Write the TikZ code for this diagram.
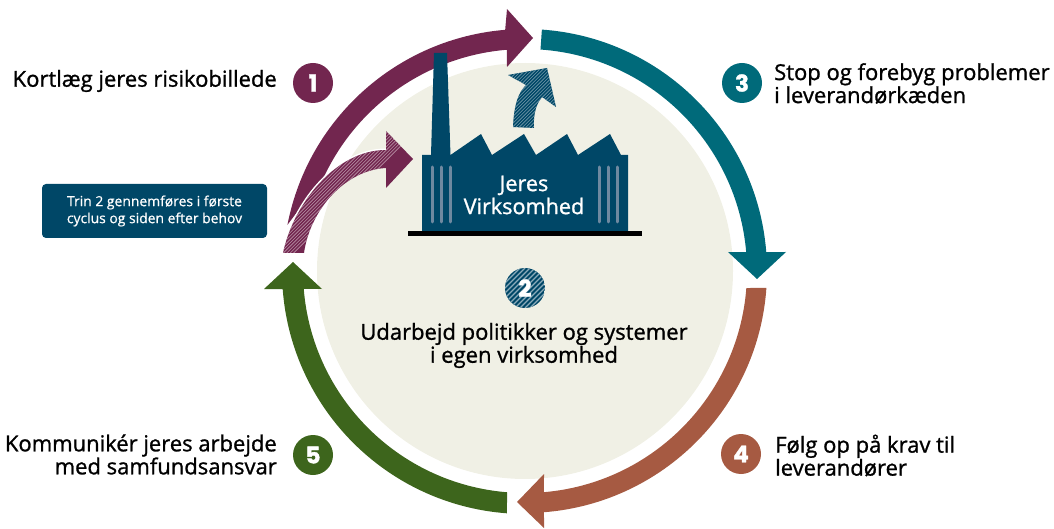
\documentclass[tikz,border=0pt]{standalone}
\usepackage{fontspec}
\setmainfont{Open Sans}[Ligatures=TeX,FakeBold=0.6]
\newfontfamily\labelfont{Open Sans}[FakeBold=1.1]
\newfontfamily\numfont{Poppins}[BoldFeatures={FakeBold=1.5}]
\definecolor{cmaroon}{HTML}{72264F}
\definecolor{cteal}{HTML}{006A7A}
\definecolor{cbrown}{HTML}{A65A42}
\definecolor{cgreen}{HTML}{3D651C}
\definecolor{cnavy}{HTML}{004767}
\definecolor{cbeige}{HTML}{F0F0E5}
\definecolor{cstripe}{HTML}{6F89A0}
\tikzset{
  lbl/.style={font=\labelfont\fontsize{22}{23}\selectfont,text=black,inner sep=0pt},
  numdot/.style={circle,minimum size=40pt,inner sep=0pt,text=white,font=\numfont\bfseries\fontsize{23}{23}\selectfont},
  stripe/.style={line width=3pt,line cap=round,draw=cstripe},
}
\begin{document}
\begin{tikzpicture}[x=1pt,y=1pt]
\useasboundingbox (0,0) rectangle (1054,528);
% big disc
\fill[cbeige] (525,257) circle[radius=208];
\begin{scope}[shift={(525,257)}]
% 1 maroon
\fill[cmaroon] (169:242) arc[start angle=169,end angle=94.7,radius=242]
  -- (-18,262) -- (8,233) -- (-18,204) -- (94.7:222)
  arc[start angle=94.7,end angle=154.4,radius=222] -- cycle;
% 3 teal
\fill[cteal] (86:242) arc[start angle=86,end angle=4.5,radius=242]
  -- (261,19) -- (232,-8) -- (203,19) -- (4.9:222)
  arc[start angle=4.9,end angle=86,radius=222] -- cycle;
% 4 brown
\fill[cbrown] (-4:242) arc[start angle=-4,end angle=-85.5,radius=242]
  -- (19,-257) -- (-8,-231) -- (19,-203) -- (-85.1:222)
  arc[start angle=-85.1,end angle=-4.4,radius=222] -- cycle;
% 5 green
\fill[cgreen] (-94.3:243) arc[start angle=-94.3,end angle=-175.7,radius=243]
  -- (-261,-18) -- (-232,9) -- (-203,-18) -- (-175.4:222)
  arc[start angle=-175.4,end angle=-94.6,radius=222] -- cycle;
\end{scope}
% hatched maroon arrow
\draw[white,line width=3pt] (283,275) .. controls (293,323) and (335,378) .. (386,378);
\begin{scope}
\clip (283,275) .. controls (293,323) and (335,378) .. (386,378) -- (386,397) -- (413,369) -- (386,340) -- (386,360) .. controls (345,358) and (310,318) .. (304,275) -- cycle;
\fill[cmaroon] (280,270) rectangle (415,400);
\foreach \i in {-130,-126.6,...,140}{\draw[line width=0.6pt,white!50!cmaroon] (\i+150,270) -- (\i+280,400);}
\end{scope}
% hatched navy arrow
\begin{scope}
\clip (513,401) .. controls (514,425) and (519,436) .. (526,443) -- (508,453) -- (547,460) -- (556,421) -- (542,431) .. controls (537,425) and (533,415) .. (534,400) -- cycle;
\fill[cnavy] (505,395) rectangle (560,465);
\foreach \i in {-80,-76.6,...,60}{\draw[line width=0.6pt,white!45!cnavy] (\i+505,395) -- (\i+575,465);}
\end{scope}
% factory
\fill[cnavy] (422,296) -- (422,373) -- (431,373) -- (434,475) -- (447,475) -- (450.5,373)
 -- (481,394) -- (492,373) -- (524,394) -- (536,373) -- (567,394) -- (578,373) -- (610,394) -- (621,373) -- (628,373) -- (628,296) -- cycle;
\fill[black] (408,292) rectangle (642,297);
\foreach \x in {432,441,450,599,608,617}{\draw[stripe] (\x,361) -- (\x,306);}
\node[text=white,font=\labelfont\fontsize{21.6}{23}\selectfont,align=center,inner sep=0pt] (fac) at (524,333) {Jeres\\Virksomhed};
% circles
\node[numdot,fill=cmaroon] (n1) at (313,445) {1};
\node[numdot,fill=cteal] (n3) at (742,445) {3};
\node[numdot,fill=cbrown] (n4) at (741,74) {4};
\node[numdot,fill=cgreen] (n5) at (313,73) {5};
\begin{scope}
\clip (525,240) circle[radius=20];
\fill[cnavy] (505,220) rectangle (545,260);
\foreach \i in {-40,-35,...,40}{\draw[line width=1.4pt,white!55!cnavy] (\i+505,220) -- (\i+545,260);}
\end{scope}
\node[numdot] (n2) at (525,240) {2};
% labels
\node[lbl,anchor=east] (t1) at (277,447) {Kortlæg jeres risikobillede};
\node[lbl,anchor=west,align=left] (t3) at (774,444.5) {Stop og forebyg problemer\\i leverandørkæden};
\node[lbl,anchor=west,align=left] (t4) at (775,72.5) {Følg op på krav til\\leverandører};
\node[lbl,anchor=east,align=right] (t5) at (277,73.5) {Kommunikér jeres arbejde\\med samfundsansvar};
\node[lbl,align=center] (t2) at (524,182.5) {Udarbejd politikker og systemer\\i egen virksomhed};
% note
\node[fill=cnavy,rounded corners=4pt,minimum width=225pt,minimum height=54pt,inner sep=0pt,text=white,align=center,font=\fontsize{13.9}{17}\selectfont] (note) at (154.5,317) {Trin 2 gennemføres i første\\cyclus og siden efter behov};
\end{tikzpicture}
\end{document}
